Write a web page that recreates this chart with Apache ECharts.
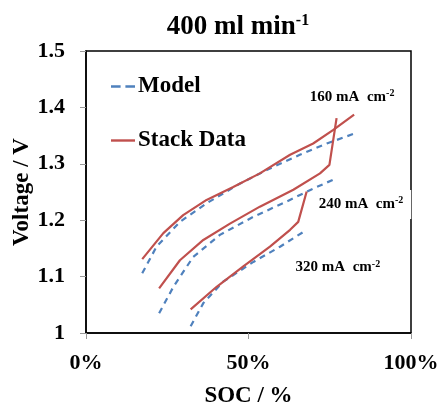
<!DOCTYPE html>
<html><head><meta charset="utf-8">
<script src="https://cdn.jsdelivr.net/npm/echarts@6/dist/echarts.min.js"></script>
<style>html,body{margin:0;padding:0;background:#fff}#c{width:445px;height:403px}</style>
</head><body><div id="c"></div>
<script>
// SOC (%) , Voltage (V)
const model160 = [[17.3,1.106],[21.7,1.153],[28.9,1.197],[37.1,1.230],[47.4,1.265],[55.6,1.289],[65.8,1.316],[74.1,1.336],[82.3,1.353]];
const stack160 = [[17.3,1.131],[23.8,1.177],[29.9,1.209],[37.1,1.236],[45.3,1.259],[53.5,1.283],[62.8,1.316],[69.9,1.336],[76.1,1.360],[82.5,1.387]];
const model240 = [[22.5,1.035],[26.9,1.082],[33.0,1.135],[41.2,1.174],[51.5,1.206],[61.7,1.233],[69.9,1.256],[76.9,1.274]];
const stack240 = [[22.5,1.079],[28.9,1.129],[36.1,1.165],[44.3,1.194],[53.5,1.224],[63.8,1.254],[72.0,1.283],[74.9,1.298],[77.1,1.381]];
const model320 = [[32.2,1.012],[36.1,1.053],[42.2,1.091],[51.5,1.126],[59.7,1.153],[67.1,1.180]];
const stack320 = [[32.2,1.042],[40.2,1.082],[48.4,1.118],[56.6,1.153],[62.8,1.183],[65.3,1.197],[67.9,1.251]];
const annotations = [
  {name:'160', coord:[82.2,1.418]},
  {name:'240', coord:[84.9,1.228]},
  {name:'320', coord:[77.8,1.116]}
];
const xTicks = [0,50,100];

const RED = '#C0504D', BLUE = '#4F81BD';
const FONT = '"Liberation Serif","Times New Roman",serif';
const chart = echarts.init(document.getElementById('c'), null, {renderer:'canvas'});
function modelSeries(d){return {name:'Model', type:'line', data:d, symbol:'none', smooth:false,
  lineStyle:{color:BLUE, width:2.2, type:[6,5]}, itemStyle:{color:BLUE}, z:3};}
function stackSeries(d, mp){const s={name:'Stack Data', type:'line', data:d, symbol:'none',
  lineStyle:{color:RED, width:2.2}, itemStyle:{color:RED}, z:4};
  if(mp){s.markPoint={symbol:'rect', symbolSize:1, silent:true, z:10, itemStyle:{color:'rgba(0,0,0,0)'},
    data:[{coord:mp.coord, value:mp.name,
    label:{show:true, position:'inside', formatter:'{a|'+mp.name+' mA  cm}{s|-2}', backgroundColor:'#fff', padding:[6,8,6,6],
      rich:{a:{fontFamily:FONT, fontWeight:'bold', fontSize:15, color:'#000'},
            s:{fontFamily:FONT, fontWeight:'bold', fontSize:10, color:'#000', verticalAlign:'top', padding:[0,0,7,0]}}}}]};}
  return s;}
const dashIcon = 'path://M0,0H8V2H0Z M12,0H20V2H12Z';
const solidIcon = 'path://M0,0H20V2H0Z';
chart.setOption({
  animation:false,
  title:{text:'{m|400 ml min}{s|-1}', left:233, top:8, textAlign:'center',
    textStyle:{rich:{m:{fontFamily:FONT, fontWeight:'bold', fontSize:27, color:'#000'},
                     s:{fontFamily:FONT, fontWeight:'bold', fontSize:16, color:'#000', padding:[0,0,12,0]}}}},
  legend:{orient:'vertical', left:106, top:70, itemGap:31, itemWidth:26, itemHeight:2.4,
    data:[{name:'Model', icon:dashIcon},{name:'Stack Data', icon:solidIcon}],
    textStyle:{fontFamily:FONT, fontWeight:'bold', fontSize:23, color:'#000', padding:[0,0,0,-3]}},
  grid:{left:86, right:34, top:51, bottom:70, containLabel:false, outerBoundsMode:'none',
    show:true, borderColor:'#000', borderWidth:1.5, backgroundColor:'transparent'},
  xAxis:{type:'value', min:0, max:100, interval:50, splitLine:{show:false},
    axisLine:{lineStyle:{color:'#000', width:1.5}},
    axisTick:{show:true, length:6, lineStyle:{color:'#999'}},
    axisLabel:{formatter:v=>xTicks.includes(v)?v+'%':'', margin:19, fontFamily:FONT, fontWeight:'bold', fontSize:22, color:'#000'},
    name:'SOC / %', nameLocation:'middle', nameGap:52, nameMoveOverlap:false,
    nameTextStyle:{fontFamily:FONT, fontWeight:'bold', fontSize:23, color:'#000'}},
  yAxis:{type:'value', min:1, max:1.5, interval:0.1, splitLine:{show:false},
    axisLine:{show:true, lineStyle:{color:'#000', width:1.5}},
    axisTick:{show:true, length:6, lineStyle:{color:'#999'}},
    axisLabel:{margin:21, fontFamily:FONT, fontWeight:'bold', fontSize:22, color:'#000'},
    name:'Voltage / V', nameLocation:'middle', nameGap:52, nameMoveOverlap:false,
    nameTextStyle:{fontFamily:FONT, fontWeight:'bold', fontSize:23, color:'#000'}},
  series:[modelSeries(model160), stackSeries(stack160, annotations[0]),
          modelSeries(model240), stackSeries(stack240, annotations[1]),
          modelSeries(model320), stackSeries(stack320, annotations[2])]
});
</script></body></html>
